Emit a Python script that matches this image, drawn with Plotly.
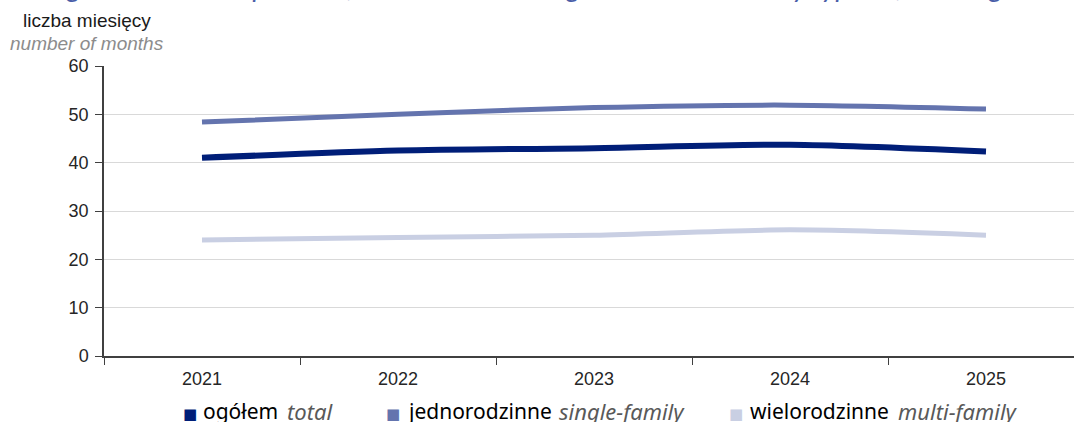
import plotly.graph_objects as go

years = ["2021", "2022", "2023", "2024", "2025"]
total = [41.0, 42.5, 43.0, 43.7, 42.3]
single_family = [48.4, 50.0, 51.4, 51.9, 51.1]
multi_family = [24.0, 24.5, 25.0, 26.1, 25.0]

series_pl = ["ogółem", "jednorodzinne", "wielorodzinne"]
series_en = ["total", "single-family", "multi-family"]
colors = ["#001e78", "#6474ae", "#c9cfe3"]
widths = [6, 5, 5]
values = [total, single_family, multi_family]

title_en = "Average construction period of residential buildings in 2021–2025 by types of buildings"
y_title_pl = "liczba miesięcy"
y_title_en = "number of months"

L, T, PLOT_W = 104, 66, 970

fig = go.Figure()
for i in [2, 1, 0]:
    fig.add_trace(go.Scatter(
        x=years, y=values[i], mode="lines",
        line=dict(color=colors[i], width=widths[i], shape="spline", smoothing=0.8),
        name=series_pl[i], showlegend=False, hoverinfo="skip",
    ))

fig.update_layout(
    width=1074, height=422,
    margin=dict(l=L, r=0, t=T, b=66, pad=0),
    paper_bgcolor="white", plot_bgcolor="white",
    showlegend=False,
    font=dict(family="Liberation Sans, Arial, sans-serif", size=18, color="#262626"),
)
fig.update_xaxes(
    type="category", range=[-0.5, 4.449],
    showline=True, linecolor="#404040", linewidth=1.5,
    ticks="outside", ticklen=7, tickcolor="#404040", tickwidth=1,
    tickson="boundaries", showgrid=False, zeroline=False,
    ticklabelstandoff=6,
    tickfont=dict(size=18, color="#262626"),
)
fig.update_yaxes(
    range=[0, 60], dtick=10,
    showline=True, linecolor="#404040", linewidth=1.5,
    ticks="outside", ticklen=7, tickcolor="#404040",
    showgrid=True, gridcolor="#d9d9d9", gridwidth=1,
    zeroline=False, ticklabelstandoff=3,
    tickfont=dict(size=18, color="#262626"),
)

def px_x(p):
    return (p - L) / PLOT_W

# title, cut off at the very top as in the reference
fig.add_annotation(
    text="<i>" + title_en + "</i>", xref="paper", yref="paper", x=px_x(-2), y=1,
    xanchor="left", yanchor="bottom", yshift=61, showarrow=False,
    font=dict(family="Lato, sans-serif", size=28, color="#4a5ea8"),
)
# unit labels
fig.add_annotation(
    text=y_title_pl, xref="paper", yref="paper", x=px_x(87), y=1, xanchor="center",
    yanchor="middle", yshift=46, showarrow=False, font=dict(size=19, color="#1a1a1a"),
)
fig.add_annotation(
    text="<i>" + y_title_en + "</i>", xref="paper", yref="paper", x=px_x(87), y=1,
    xanchor="center", yanchor="middle", yshift=23, showarrow=False,
    font=dict(size=19, color="#8c8c8c"),
)

# legend
sq_x = [181, 384, 727]
pl_x = [201, 405, 748]
en_x = [285, 557, 896]
for i in range(3):
    fig.add_annotation(
        text="■", xref="paper", yref="paper", x=px_x(sq_x[i]), y=0, xanchor="left",
        yanchor="middle", yshift=-58, showarrow=False,
        font=dict(family="DejaVu Sans", size=15, color=colors[i]),
    )
    fig.add_annotation(
        text=series_pl[i], xref="paper", yref="paper", x=px_x(pl_x[i]), y=0,
        xanchor="left", yanchor="middle", yshift=-55, showarrow=False,
        font=dict(family="Noto Sans", size=21, color="#000000"),
    )
    fig.add_annotation(
        text="<i>" + series_en[i] + "</i>", xref="paper", yref="paper", x=px_x(en_x[i]), y=0,
        xanchor="left", yanchor="middle", yshift=-55, showarrow=False,
        font=dict(family="Noto Sans", size=22, color="#595959"),
    )

fig.write_html("out.html", config={"displayModeBar": False},
               post_script="document.body.style.margin='0px';")
